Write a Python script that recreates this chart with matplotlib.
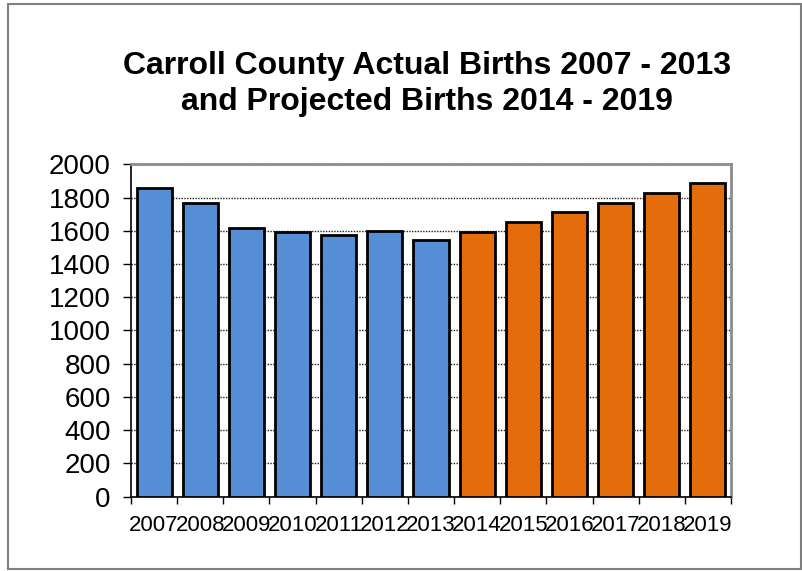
import matplotlib.pyplot as plt
from matplotlib.patches import Rectangle

plt.rcParams['font.family'] = ['Liberation Sans', 'DejaVu Sans']

# Data
years = ['2007', '2008', '2009', '2010', '2011', '2012', '2013',
         '2014', '2015', '2016', '2017', '2018', '2019']
births = [1855, 1765, 1615, 1590, 1575, 1598, 1545,
          1590, 1650, 1710, 1770, 1830, 1890]
n_actual = 7  # 2007-2013 actual, rest projected

blue = '#558ED5'
orange = '#E46C0A'
colors = [blue] * n_actual + [orange] * (len(years) - n_actual)

fig = plt.figure(figsize=(8.03, 5.71), dpi=100)
ax = fig.add_axes([0.1631, 0.1301, 0.7472, 0.5822])

x = list(range(len(years)))
ax.bar(x, births, width=0.76, color=colors, edgecolor='black', linewidth=2, zorder=3)

ax.set_xlim(-0.5, len(years) - 0.5)
ax.set_ylim(0, 2000)
ax.set_yticks(range(0, 2001, 200))
ax.yaxis.grid(True, linestyle=(0, (1, 1)), color='#222222', linewidth=1, zorder=0)

# labels centered on bars, tick marks at category boundaries
ax.set_xticks(x)
ax.set_xticklabels(years, fontsize=16)
ax.tick_params(axis='x', which='major', length=0, pad=13)
ax.set_xticks([i - 0.5 for i in range(len(years) + 1)], minor=True)
ax.tick_params(axis='x', which='minor', length=5, width=1, direction='out')
ax.tick_params(axis='y', labelsize=20, length=6, width=1, direction='out', pad=8.5)

for side in ['left', 'bottom']:
    ax.spines[side].set_color('black')
    ax.spines[side].set_linewidth(1.2)
for side in ['top', 'right']:
    ax.spines[side].set_color('#8c8c8c')
    ax.spines[side].set_linewidth(2)

fig.text(0.532, 0.853,
         'Carroll County Actual Births 2007 - 2013\nand Projected Births 2014 - 2019',
         ha='center', va='center', fontsize=23, fontweight='bold', linespacing=1.25)

# outer chart border
fig.patches.append(Rectangle((0.01, 0.003), 0.987, 0.99, transform=fig.transFigure,
                             fill=False, edgecolor='#7f7f7f', linewidth=1.5))

fig.savefig('out.png', dpi=100)
